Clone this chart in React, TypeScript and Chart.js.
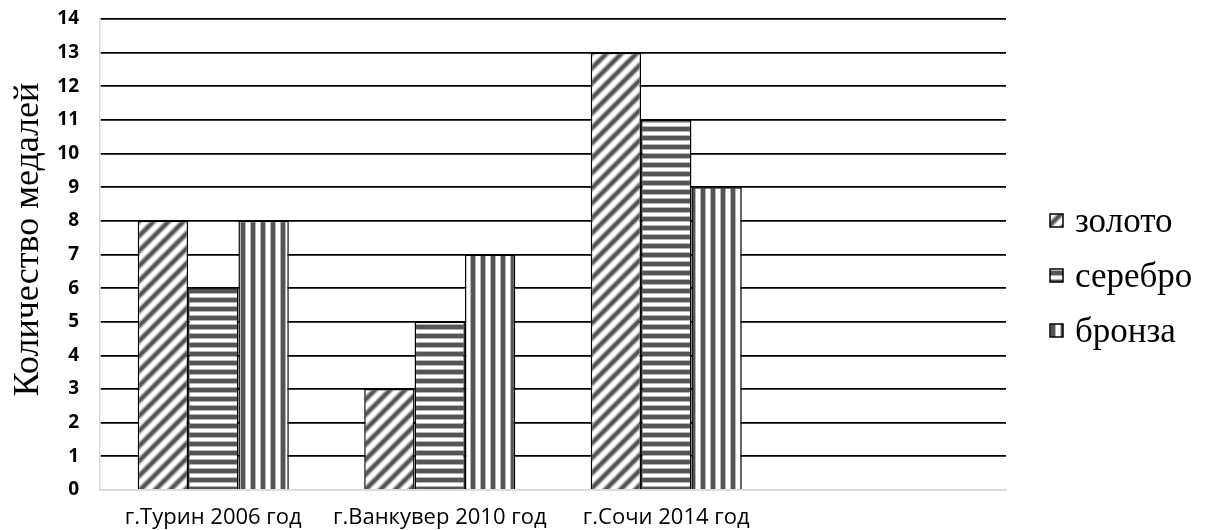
import React, { useEffect, useRef } from "react";
import { Chart, registerables } from "chart.js";

Chart.register(...registerables);

const categories = ["г.Турин 2006 год", "г.Ванкувер 2010 год", "г.Сочи 2014 год", ""];
const seriesNames = ["золото", "серебро", "бронза"];
const goldValues = [8, 3, 13, null];
const silverValues = [6, 5, 11, null];
const bronzeValues = [8, 7, 9, null];
const yMin = 0;
const yMax = 14;
const yStep = 1;
const yTitle = "Количество медалей";

function makePattern(kind: string): CanvasPattern | string {
  const c = document.createElement("canvas");
  let w = 15;
  let h = 15;
  if (kind === "h") { w = 4; h = 9; }
  if (kind === "v") { w = 10; h = 4; }
  c.width = w;
  c.height = h;
  const ctx = c.getContext("2d");
  if (!ctx) return "#888";
  ctx.fillStyle = "#ffffff";
  ctx.fillRect(0, 0, w, h);
  if (kind === "d") {
    const s = w;
    const pass = (color: string, lw: number) => {
      ctx.strokeStyle = color;
      ctx.lineWidth = lw;
      for (let k = 0; k <= 2; k++) {
        ctx.beginPath();
        ctx.moveTo(k * s + 3, -3);
        ctx.lineTo(k * s - s - 3, s + 3);
        ctx.stroke();
      }
    };
    pass("#b5b5b5", 6.5);
    pass("#555555", 3.5);
  } else if (kind === "h") {
    ctx.fillStyle = "#b5b5b5";
    ctx.fillRect(0, 0, w, 1);
    ctx.fillRect(0, 5, w, 1);
    ctx.fillStyle = "#555555";
    ctx.fillRect(0, 1, w, 4);
  } else {
    ctx.fillStyle = "#b5b5b5";
    ctx.fillRect(0, 0, 1, h);
    ctx.fillRect(5, 0, 1, h);
    ctx.fillStyle = "#555555";
    ctx.fillRect(1, 0, 4, h);
  }
  const p = ctx.createPattern(c, "repeat");
  return p || "#888";
}

const legendPlugin = {
  id: "customLegend",
  afterDraw(chart: any) {
    const { ctx, chartArea } = chart;
    const ds = chart.data.datasets;
    const spacing = 55;
    const mid = (chartArea.top + chartArea.bottom) / 2;
    const cy = mid + 21;
    const boxX = chartArea.right + 44;
    const box = 13;
    ctx.save();
    ctx.font = "35px 'Liberation Serif'";
    ctx.textBaseline = "middle";
    ctx.textAlign = "left";
    ds.forEach((d: any, i: number) => {
      const y = cy + (i - (ds.length - 1) / 2) * spacing;
      ctx.fillStyle = d.backgroundColor;
      ctx.fillRect(boxX, y - box / 2, box, box);
      ctx.strokeStyle = "#000";
      ctx.lineWidth = 1.5;
      ctx.strokeRect(boxX, y - box / 2, box, box);
      ctx.fillStyle = "#000";
      ctx.fillText(d.label, boxX + box + 12, y + 2);
    });
    // y axis title
    ctx.translate(chartArea.left - 62, mid - 15);
    ctx.rotate(-Math.PI / 2);
    ctx.font = "36px 'Liberation Serif'";
    ctx.textAlign = "center";
    ctx.textBaseline = "alphabetic";
    ctx.fillText(yTitle, 0, 0);
    ctx.restore();
  },
};

export default function App() {
  const ref = useRef<HTMLCanvasElement>(null);
  useEffect(() => {
    if (!ref.current) return;
    const pats = [makePattern("d"), makePattern("h"), makePattern("v")];
    const values = [goldValues, silverValues, bronzeValues];
    const chart = new Chart(ref.current, {
      type: "bar",
      data: {
        labels: categories,
        datasets: seriesNames.map((name, i) => ({
          label: name,
          data: values[i],
          backgroundColor: pats[i] as any,
          borderColor: "#000000",
          borderWidth: 1.5,
          categoryPercentage: 0.667,
          barPercentage: 1,
        })),
      },
      options: {
        animation: false,
        responsive: true,
        maintainAspectRatio: false,
        layout: { padding: { top: 19, right: 200, left: 0, bottom: 0 } },
        plugins: { legend: { display: false }, tooltip: { enabled: false } },
        scales: {
          x: {
            grid: { display: false },
            border: { color: "#d9d9d9", width: 1.5 },
            ticks: {
              color: "#000",
              font: { family: "'Open Sans'", size: 22 },
              padding: 7,
              maxRotation: 0,
              autoSkip: false,
            },
            afterFit(scale: any) {
              scale.height = 40;
              scale.paddingLeft = 0;
              scale.paddingRight = 0;
            },
          },
          y: {
            min: yMin,
            max: yMax,
            grid: {
              drawTicks: false,
              color: (c: any) => (c.tick && c.tick.value === 0 ? "#d9d9d9" : "#000000"),
              lineWidth: 1.8,
            },
            border: { color: "#d9d9d9", width: 1.5 },
            ticks: {
              stepSize: yStep,
              color: "#000",
              font: { family: "'Open Sans'", size: 19, weight: "bold" },
              padding: 21,
            },
            title: { display: false },
            afterFit(scale: any) {
              scale.width = 100;
              scale.paddingTop = 0;
              scale.paddingBottom = 0;
            },
          },
        },
      },
      plugins: [legendPlugin],
    });
    return () => chart.destroy();
  }, []);
  return (
    <div style={{ position: "fixed", left: 0, top: 0, width: 1206, height: 530, background: "#fff" }}>
      <canvas ref={ref} />
    </div>
  );
}
